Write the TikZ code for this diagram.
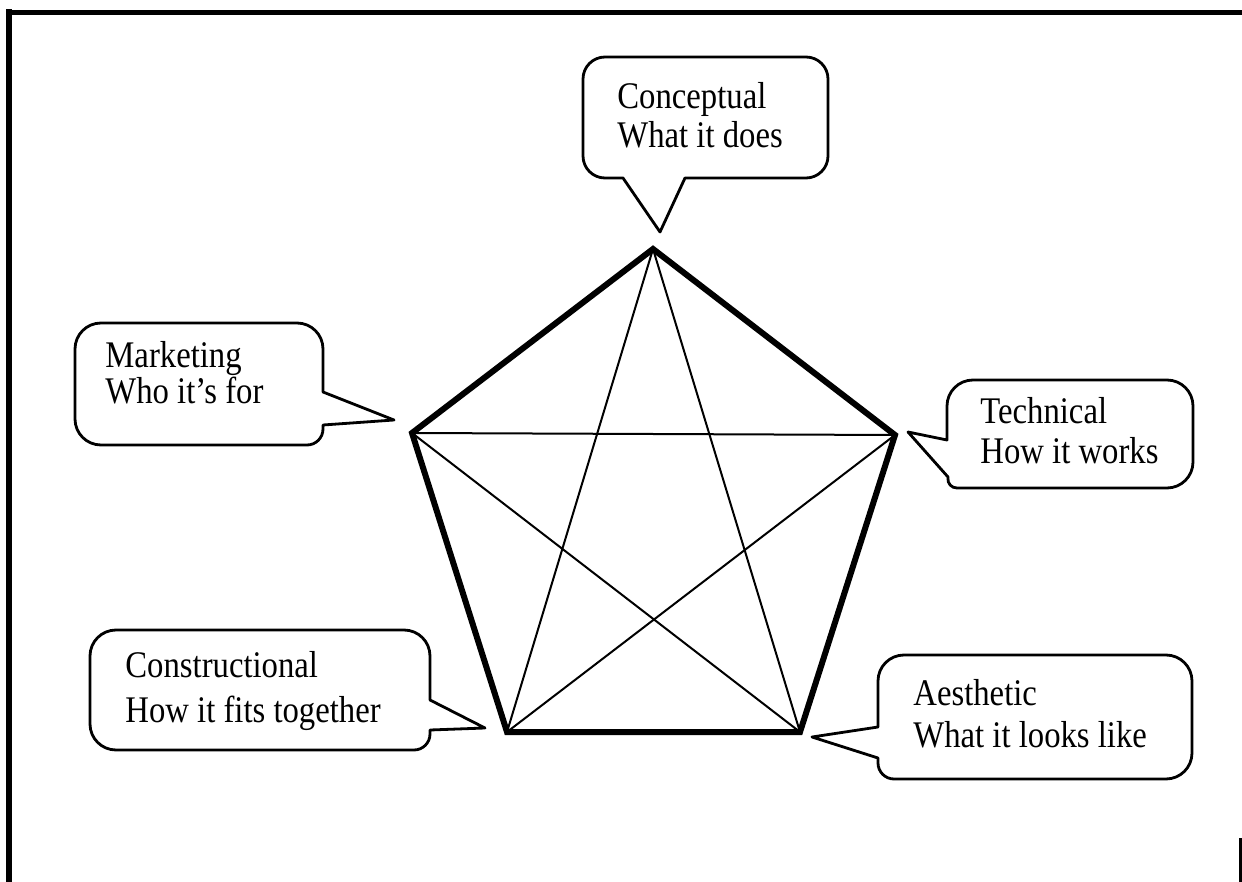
\documentclass[tikz,border=0pt]{standalone}
\usepackage{fontspec}
\setmainfont{Liberation Serif}[FakeStretch=0.87]
\begin{document}
\begin{tikzpicture}[x=0.5pt,y=-0.5pt,
  callout/.style={draw=black,line width=1.4pt,line join=round},
  thick edge/.style={line width=3pt,line join=miter},
  thin edge/.style={line width=1pt},
  label/.style={anchor=base west,inner sep=0pt,font=\fontsize{18.8pt}{22pt}\selectfont},
  border/.style={draw=black}]
\useasboundingbox (0,0) rectangle (1242,882);
% frame pieces
\draw[border,line width=2.5pt] (6,12.5) -- (1242,12.5);
\draw[border,line width=3pt] (9,9.5) -- (9,882);
\draw[border,line width=1.5pt] (1240.5,838) -- (1240.5,882);
% pentagon vertices
\coordinate (T) at (653,249);
\coordinate (L) at (412,433);
\coordinate (R) at (895,435);
\coordinate (BL) at (507,732);
\coordinate (BR) at (800,732);
\draw[thin edge] (T) -- (BL);
\draw[thin edge] (T) -- (BR);
\draw[thin edge] (L) -- (R);
\draw[thin edge] (L) -- (BR);
\draw[thin edge] (R) -- (BL);
\draw[thick edge] (T) -- (R) -- (BR) -- (BL) -- (L) -- cycle;
% Conceptual callout
\draw[callout] (685,178) [rounded corners=11pt] -- (828,178) -- (828,57) -- (583,57) -- (583,178) [sharp corners] -- (623,178) -- (660,232) -- cycle;
\node[label] (c1) at (617,109) {Conceptual};
\node[label] (c2) at (617,148) {What it does};
% Marketing callout
\draw[callout] (323,392) [rounded corners=13pt] -- (323,323) -- (75,323) -- (75,445) [rounded corners=8pt] -- (323,445) [sharp corners] -- (323,425) -- (394,420) -- cycle;
\node[label] (m1) at (105,367) {Marketing};
\node[label] (m2) at (105,403) {Who it’s for};
% Technical callout
\draw[callout] (947,440) [rounded corners=13pt] -- (947,380) -- (1193,380) -- (1193,488) [rounded corners=5pt] -- (947,488) [sharp corners] -- (948,477) -- (908,432) -- cycle;
\node[label] (t1) at (980,423) {Technical};
\node[label] (t2) at (980,463) {How it works};
% Constructional callout
\draw[callout] (430,700) [rounded corners=13pt] -- (430,630) -- (90,630) -- (90,750) [rounded corners=8pt] -- (430,750) [sharp corners] -- (430,730) -- (485,728) -- cycle;
\node[label] (k1) at (125,677) {Constructional};
\node[label] (k2) at (125,722) {How it fits together};
% Aesthetic callout
\draw[callout] (878,727) [rounded corners=13pt] -- (878,655) -- (1192,655) -- (1192,779) [rounded corners=8pt] -- (878,779) [sharp corners] -- (878,758) -- (812,737) -- cycle;
\node[label] (a1) at (913,705) {Aesthetic};
\node[label] (a2) at (913,747) {What it looks like};
\end{tikzpicture}
\end{document}
